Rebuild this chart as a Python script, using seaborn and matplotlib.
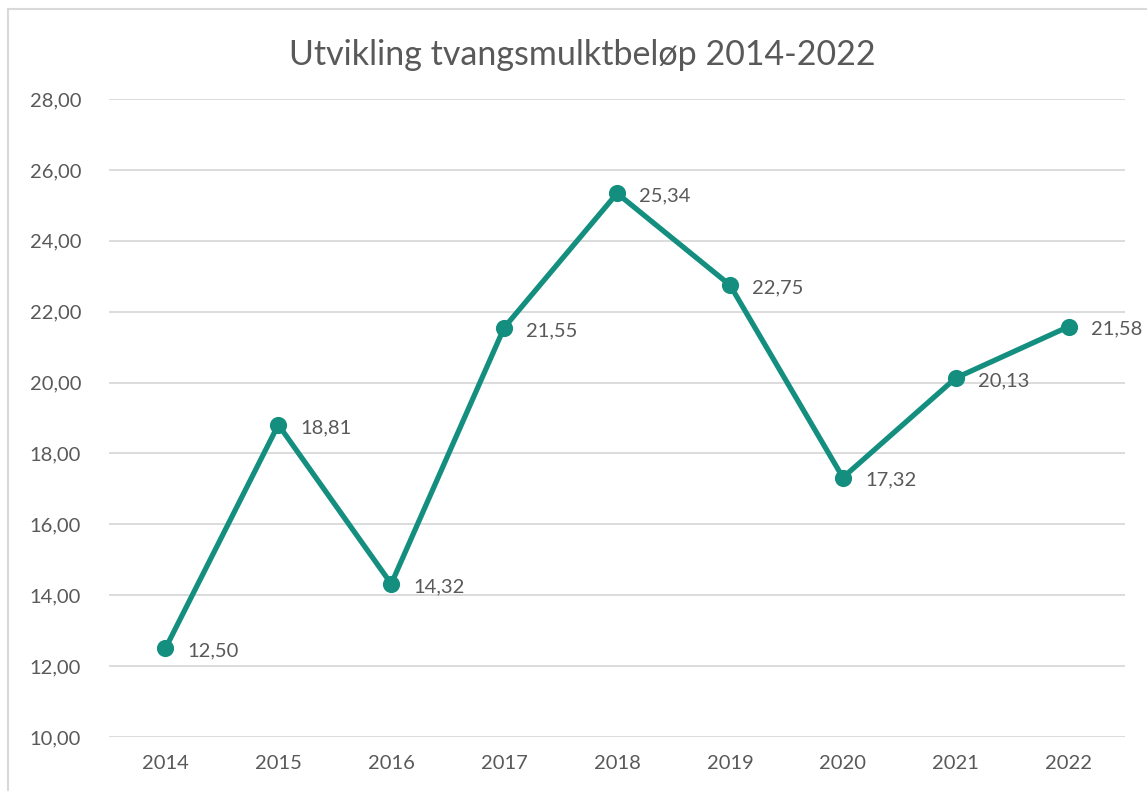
import matplotlib.pyplot as plt
import seaborn as sns
from matplotlib.patches import Rectangle

# data
years = ["2014", "2015", "2016", "2017", "2018", "2019", "2020", "2021", "2022"]
amounts = [12.50, 18.81, 14.32, 21.55, 25.34, 22.75, 17.32, 20.13, 21.58]
yticks = [10, 12, 14, 16, 18, 20, 22, 24, 26, 28]

teal = "#148F7F"
grey_text = "#595959"
grid_col = "#D9D9D9"

sns.set_style("white")
plt.rcParams['font.family'] = ['Lato', 'DejaVu Sans']

fig = plt.figure(figsize=(11.47, 7.91), dpi=100)
ax = fig.add_axes([0.095, 0.0683, 0.886, 0.8065])

# outer chart frame (cropped on the right and bottom)
fig.patches.append(Rectangle((8 / 1147, -0.1), 1.2, 1 - 9 / 791 + 0.1,
                             transform=fig.transFigure, fill=False,
                             edgecolor=grid_col, linewidth=1.5))

sns.pointplot(x=years, y=amounts, color=teal, ax=ax,
              markersize=9.5, linewidth=3.8, errorbar=None)

for i, v in enumerate(amounts):
    ax.annotate(f"{v:.2f}".replace(".", ","), (i, v), xytext=(16, -2),
                textcoords="offset points", ha="left", va="center",
                fontsize=14.5, color=grey_text)

ax.set_ylim(10, 28)
ax.set_xlim(-0.5, 8.5)
ax.set_yticks(yticks)
ax.set_yticklabels([f"{t:.2f}".replace(".", ",") for t in yticks])
ax.yaxis.grid(True, color=grid_col, linewidth=1.3)
ax.set_axisbelow(True)
for s in ax.spines.values():
    s.set_visible(False)
ax.tick_params(axis="both", length=0, labelsize=14.5, labelcolor=grey_text)
ax.tick_params(axis="y", pad=20)
ax.tick_params(axis="x", pad=13)
ax.set_xlabel("")
ax.set_ylabel("")

fig.text(0.508, 0.931, "Utvikling tvangsmulktbeløp 2014-2022", ha="center",
         va="center", fontsize=24.5, color=grey_text)

fig.savefig("out.png", dpi=100)
